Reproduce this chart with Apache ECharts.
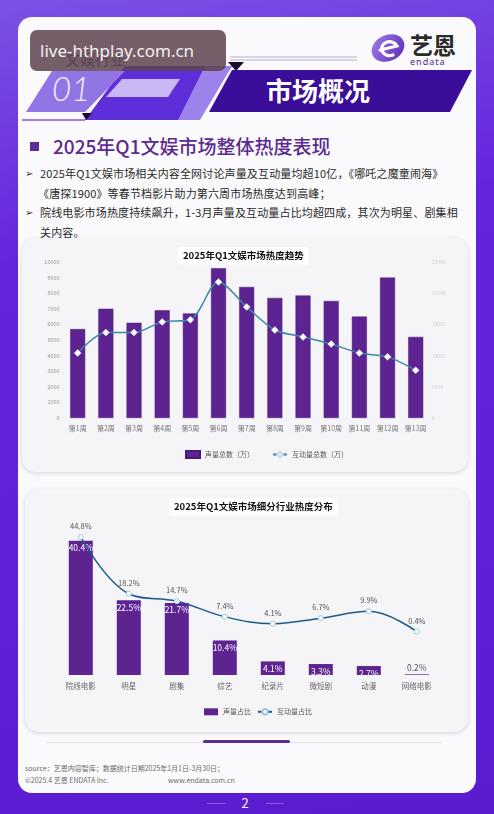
<!DOCTYPE html>
<html><head><meta charset="utf-8">
<script src="https://cdn.jsdelivr.net/npm/echarts@6/dist/echarts.min.js"></script>
<style>
html,body{margin:0;padding:0;width:494px;height:814px;overflow:hidden;}
body{background:linear-gradient(170deg,#7b52e6 0%,#6424dc 30%,#5f20d6 70%,#5a1ccf 100%);font-family:"Noto Sans CJK SC","Noto Sans",sans-serif;position:relative;}
.abs{position:absolute;}
#panel{left:18px;top:17px;width:458px;height:776px;border-radius:14px;background:#fafafc;}
.card{background:#f5f5f8;border-radius:14px;box-shadow:0 1px 4px rgba(60,40,110,0.20);}
#c1{left:22px;top:238px;width:446px;height:234px;}
#c2{left:25px;top:489px;width:443px;height:243px;}
.bl{font-size:11px;color:#2a2a2a;white-space:nowrap;line-height:14px;letter-spacing:0.15px;}
.arrow{font-size:10px;color:#333;line-height:14px;}
.ft{font-size:7px;color:#6a6a6a !important;white-space:nowrap;line-height:10px;}
#chart{left:0;top:0;width:494px;height:814px;}
</style></head>
<body>
<div id="panel" class="abs"></div>
<svg class="abs" style="left:0;top:0" width="494" height="130">
  <line x1="230" y1="57" x2="357" y2="57" stroke="#b8b0d4" stroke-width="1"/>
  <line x1="230" y1="60" x2="357" y2="60" stroke="#b8b0d4" stroke-width="1"/>
  <polygon points="125,66 232,66 190,120 85,120" fill="#5e2fd9"/>
  <polygon points="52,71 125,71 85,112 26,112" fill="#9275e5"/>
  <polygon points="122,79 180,79 168,97 106,97" fill="#c8b8f4"/>
  <polygon points="205,66 232,66 200,120 178,120" fill="#9c82ea"/>
  <polygon points="228,62 244,62 236,71" fill="#1a0a30"/>
  <polygon points="82,113 92,113 86,120" fill="#1a0a30"/>
  <polygon points="232,70 472,70 450,112 209,112" fill="#3b0e9a"/>
  <line x1="22" y1="120" x2="85" y2="120" stroke="#7d5bd6" stroke-width="1.5"/>
  <text x="65" y="65" font-size="15" fill="#5a4470" font-family="Noto Sans CJK SC">文娱行业</text>
  <text x="52" y="101" font-size="33" fill="#f2efff" font-style="italic" font-weight="300" font-family="Lato">01</text>
  <text x="318" y="101" font-size="26" fill="#ffffff" font-weight="bold" text-anchor="middle" font-family="Noto Sans CJK SC">市场概况</text>
  <rect x="30" y="30" width="196" height="41" rx="7" fill="rgba(92,66,78,0.85)"/>
  <text x="40" y="57" font-size="17" fill="#f4eef2" font-family="Noto Sans">live-hthplay.com.cn</text>
  <defs><linearGradient id="lg" x1="0" y1="0" x2="1" y2="1"><stop offset="0" stop-color="#a27de8"/><stop offset="1" stop-color="#5a2bb8"/></linearGradient></defs>
  <ellipse cx="388" cy="48" rx="17" ry="13" transform="rotate(-25 388 48)" fill="url(#lg)"/>
  <path d="M380,50 L397,46 A8,7 0 1,0 393,55" fill="none" stroke="#fff" stroke-width="3.2" stroke-linecap="round"/>
  <text x="410" y="54" font-size="23" fill="#2a2a2a" font-weight="bold" font-family="Noto Sans CJK SC">艺恩</text>
  <text x="410" y="65" font-size="9" fill="#4a2a8a" font-family="Noto Sans" letter-spacing="1">endata</text>
</svg>
<div class="abs" style="left:30px;top:141.5px;width:9px;height:9px;background:#5c2d91"></div>
<div class="abs" style="left:53px;top:133px;font-size:19px;line-height:26px;color:#5a2a8e;font-weight:500;white-space:nowrap;">2025年Q1文娱市场整体热度表现</div>
<div class="abs arrow" style="left:25px;top:166px">➢</div>
<div class="abs bl" style="left:40px;top:166px">2025年Q1文娱市场相关内容全网讨论声量及互动量均超10亿，《哪吒之魔童闹海》</div>
<div class="abs bl" style="left:38px;top:186px">《唐探1900》等春节档影片助力第六周市场热度达到高峰；</div>
<div class="abs arrow" style="left:25px;top:205px">➢</div>
<div class="abs bl" style="left:40px;top:205px">院线电影市场热度持续飙升，1-3月声量及互动量占比均超四成，其次为明星、剧集相</div>
<div class="abs bl" style="left:40px;top:225px">关内容。</div>
<div id="c1" class="abs card"></div>
<div id="c2" class="abs card"></div>
<div class="abs" style="left:45px;top:742px;width:398px;height:1px;background:#e2e2e8"></div>
<div class="abs" style="left:203px;top:740px;width:87px;height:3px;border-radius:2px;background:#5b2d8e"></div>
<div class="abs ft" style="left:25px;top:763px"><span style="color:#6a6a6a">source：艺恩内容智库；数据统计日期2025年1月1日-3月30日；</span></div>
<div class="abs ft" style="left:25px;top:775px"><span style="color:#6a6a6a">©2025.4 艺恩 ENDATA&nbsp;Inc.</span></div>
<div class="abs ft" style="left:168px;top:775px"><span style="color:#6a6a6a">www.endata.com.cn</span></div>
<div class="abs" style="left:207px;top:803px;width:18px;height:1px;background:rgba(255,255,255,0.3)"></div>
<div class="abs" style="left:266px;top:803px;width:18px;height:1px;background:rgba(255,255,255,0.3)"></div>
<div class="abs" style="left:230px;top:793px;width:30px;text-align:center;font-size:13px;line-height:20px;color:#fff;">2</div>
<div id="chart" class="abs"></div>
<script>
const weeks = ['第1周','第2周','第3周','第4周','第5周','第6周','第7周','第8周','第9周','第10周','第11周','第12周','第13周'];
const voiceTotal = [5700,7000,6100,6900,6700,9600,8400,7700,7850,7500,6500,9000,5200];
const interactTotal = [10400,13700,13700,15400,15750,21800,17800,14100,13000,11850,10400,9800,7650];
const segments = ['院线电影','明星','剧集','综艺','纪录片','微短剧','动漫','网络电影'];
const voiceShare = [40.4,22.5,21.7,10.4,4.1,3.3,2.7,0.2];
const interactShare = [44.8,18.2,14.7,7.4,4.1,6.7,9.9,0.4];

const FONT = '"Noto Sans CJK SC","Noto Sans",sans-serif';
const plain = v => String(v);
const chart = echarts.init(document.getElementById('chart'), null, {renderer:'canvas'});
chart.setOption({
  animation:false,
  backgroundColor:'transparent',
  textStyle:{fontFamily:FONT},
  title:[
    {text:'2025年Q1文娱市场热度趋势', left:178, top:247, padding:[4,5], backgroundColor:'#ffffff',
     textStyle:{fontSize:9.5,fontWeight:'bold',color:'#111',fontFamily:FONT}},
    {text:'2025年Q1文娱市场细分行业热度分布', left:169, top:498, padding:[4,5], backgroundColor:'#ffffff',
     textStyle:{fontSize:9.5,fontWeight:'bold',color:'#111',fontFamily:FONT}}
  ],
  legend:[
    {left:180, top:445, itemGap:18, itemWidth:14, itemHeight:7, textStyle:{fontSize:7,color:'#555',fontFamily:FONT},
     data:[{name:'声量总数（万）',icon:'rect'},{name:'互动量总数（万）'}]},
    {left:199, top:703, itemGap:6, itemWidth:14, itemHeight:7, textStyle:{fontSize:7,color:'#555',fontFamily:FONT},
     data:[{name:'声量占比',icon:'rect'},{name:'互动量占比'}]}
  ],
  grid:[
    {left:63.6, right:64.2, top:262, height:156},
    {left:56.8, right:53.2, top:509, height:166}
  ],
  xAxis:[
    {gridIndex:0, type:'category', data:weeks, boundaryGap:true,
     axisLine:{show:false}, axisTick:{show:false}, splitLine:{show:false},
     axisLabel:{fontSize:7,color:'#777',margin:7,interval:0}},
    {gridIndex:1, type:'category', data:segments, boundaryGap:true,
     axisLine:{show:false}, axisTick:{show:false}, splitLine:{show:false},
     axisLabel:{fontSize:7.5,color:'#666',margin:7,interval:0}}
  ],
  yAxis:[
    {gridIndex:0, type:'value', min:0, max:10000, interval:1000, splitLine:{show:false},
     axisLine:{show:false}, axisTick:{show:false}, axisLabel:{fontSize:5.5,color:'#9a9a9a',margin:4,formatter:plain}},
    {gridIndex:0, type:'value', position:'right', min:0, max:25000, interval:5000, splitLine:{show:false},
     axisLine:{show:false}, axisTick:{show:false}, axisLabel:{fontSize:5,color:'#d2d2d2',margin:2,formatter:plain}},
    {gridIndex:1, type:'value', min:0, max:50, show:false, splitLine:{show:false}},
    {gridIndex:1, type:'value', min:-20, max:58, show:false, splitLine:{show:false}}
  ],
  series:[
    {name:'声量总数（万）', type:'bar', xAxisIndex:0, yAxisIndex:0, data:voiceTotal, barWidth:15,
     itemStyle:{color:'#5c2391', borderColor:'#4a1a78', borderWidth:0.5}},
    {name:'互动量总数（万）', type:'line', xAxisIndex:0, yAxisIndex:1, data:interactTotal, smooth:0.3,
     symbol:'diamond', symbolSize:7, showAllSymbol:true,
     lineStyle:{color:'#3b86a8', width:1.5},
     itemStyle:{color:'#ffffff', borderColor:'#c9d9e6', borderWidth:0.5}},
    {name:'声量占比', type:'bar', xAxisIndex:1, yAxisIndex:2, barWidth:24,
     data:voiceShare.map(v => v < 1 ? {value:v, label:{position:'top', color:'#555', distance:2}} : v),
     itemStyle:{color:'#5c2391'},
     label:{show:true, position:'insideTop', distance:3, color:'#ffffff', fontSize:8.5, formatter:'{c}%'}},
    {name:'互动量占比', type:'line', xAxisIndex:1, yAxisIndex:3, data:interactShare, smooth:0.4,
     symbol:'circle', symbolSize:5, showAllSymbol:true,
     lineStyle:{color:'#1d5a8a', width:1.5},
     itemStyle:{color:'#ffffff', borderColor:'#9ec6e0', borderWidth:1},
     label:{show:true, position:'top', distance:4, color:'#555', fontSize:7.5, formatter:'{c}%'}}
  ]
});
</script>
</body></html>
